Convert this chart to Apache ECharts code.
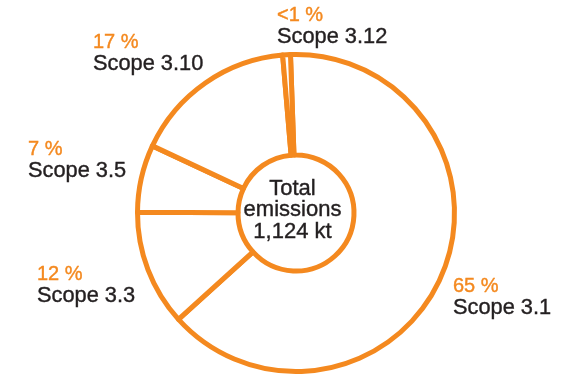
<!DOCTYPE html>
<html>
<head>
<meta charset="utf-8">
<script src="https://cdn.jsdelivr.net/npm/echarts@6/dist/echarts.min.js"></script>
<style>
  html, body { margin: 0; padding: 0; background: #ffffff; }
  #chart { width: 575px; height: 376px; }
</style>
</head>
<body>
<div id="chart"></div>
<script>
// Scope 3 emission categories and their share of the total
const categories = ['Scope 3.1', 'Scope 3.3', 'Scope 3.5', 'Scope 3.10', 'Scope 3.12'];
const shares = [65, 12, 7, 17, 0.8];
const shareLabels = ['65 %', '12 %', '7 %', '17 %', '<1 %'];
const centerLines = ['Total', 'emissions', '1,124 kt'];

const ORANGE = '#F4891F';
const DARK = '#231F20';
const FONT = '"Liberation Sans", Arial, Helvetica, sans-serif';

// left edge and bottom of each two-line label block
const labelAnchors = [
  [453, 318.5],
  [37, 306.5],
  [28, 181.5],
  [93, 74.5],
  [277, 47.5]
];

const chart = echarts.init(document.getElementById('chart'), null, { renderer: 'canvas' });

chart.setOption({
  animation: false,
  backgroundColor: '#ffffff',
  series: [{
    type: 'pie',
    center: [296, 213],
    radius: [58, 158.5],
    startAngle: 92,
    clockwise: true,
    silent: true,
    avoidLabelOverlap: false,
    itemStyle: {
      color: '#ffffff',
      borderColor: ORANGE,
      borderWidth: 5
    },
    emphasis: { disabled: true },
    labelLine: { show: false },
    label: {
      show: true,
      position: 'outside',
      fontFamily: FONT,
      formatter: p => '{p|' + shareLabels[p.dataIndex] + '}\n{n|' + p.name + '}',
      rich: {
        p: {
          color: ORANGE, fontSize: 20, lineHeight: 21.5, fontFamily: FONT,
          textBorderColor: ORANGE, textBorderWidth: 0.4
        },
        n: {
          color: DARK, fontSize: 21.8, lineHeight: 21.5, fontFamily: FONT,
          textBorderColor: DARK, textBorderWidth: 0.4
        }
      }
    },
    labelLayout: p => ({
      x: labelAnchors[p.dataIndex][0],
      y: labelAnchors[p.dataIndex][1],
      align: 'left',
      verticalAlign: 'bottom',
      hideOverlap: false
    }),
    data: categories.map((name, i) => ({ name: name, value: shares[i] }))
  }],
  graphic: [{
    type: 'text',
    x: 292.5,
    y: 210,
    silent: true,
    style: {
      text: centerLines.join('\n'),
      fill: DARK,
      stroke: DARK,
      lineWidth: 0.4,
      fontFamily: FONT,
      fontSize: 22,
      lineHeight: 21.5,
      align: 'center',
      verticalAlign: 'middle'
    }
  }]
});
</script>
</body>
</html>
